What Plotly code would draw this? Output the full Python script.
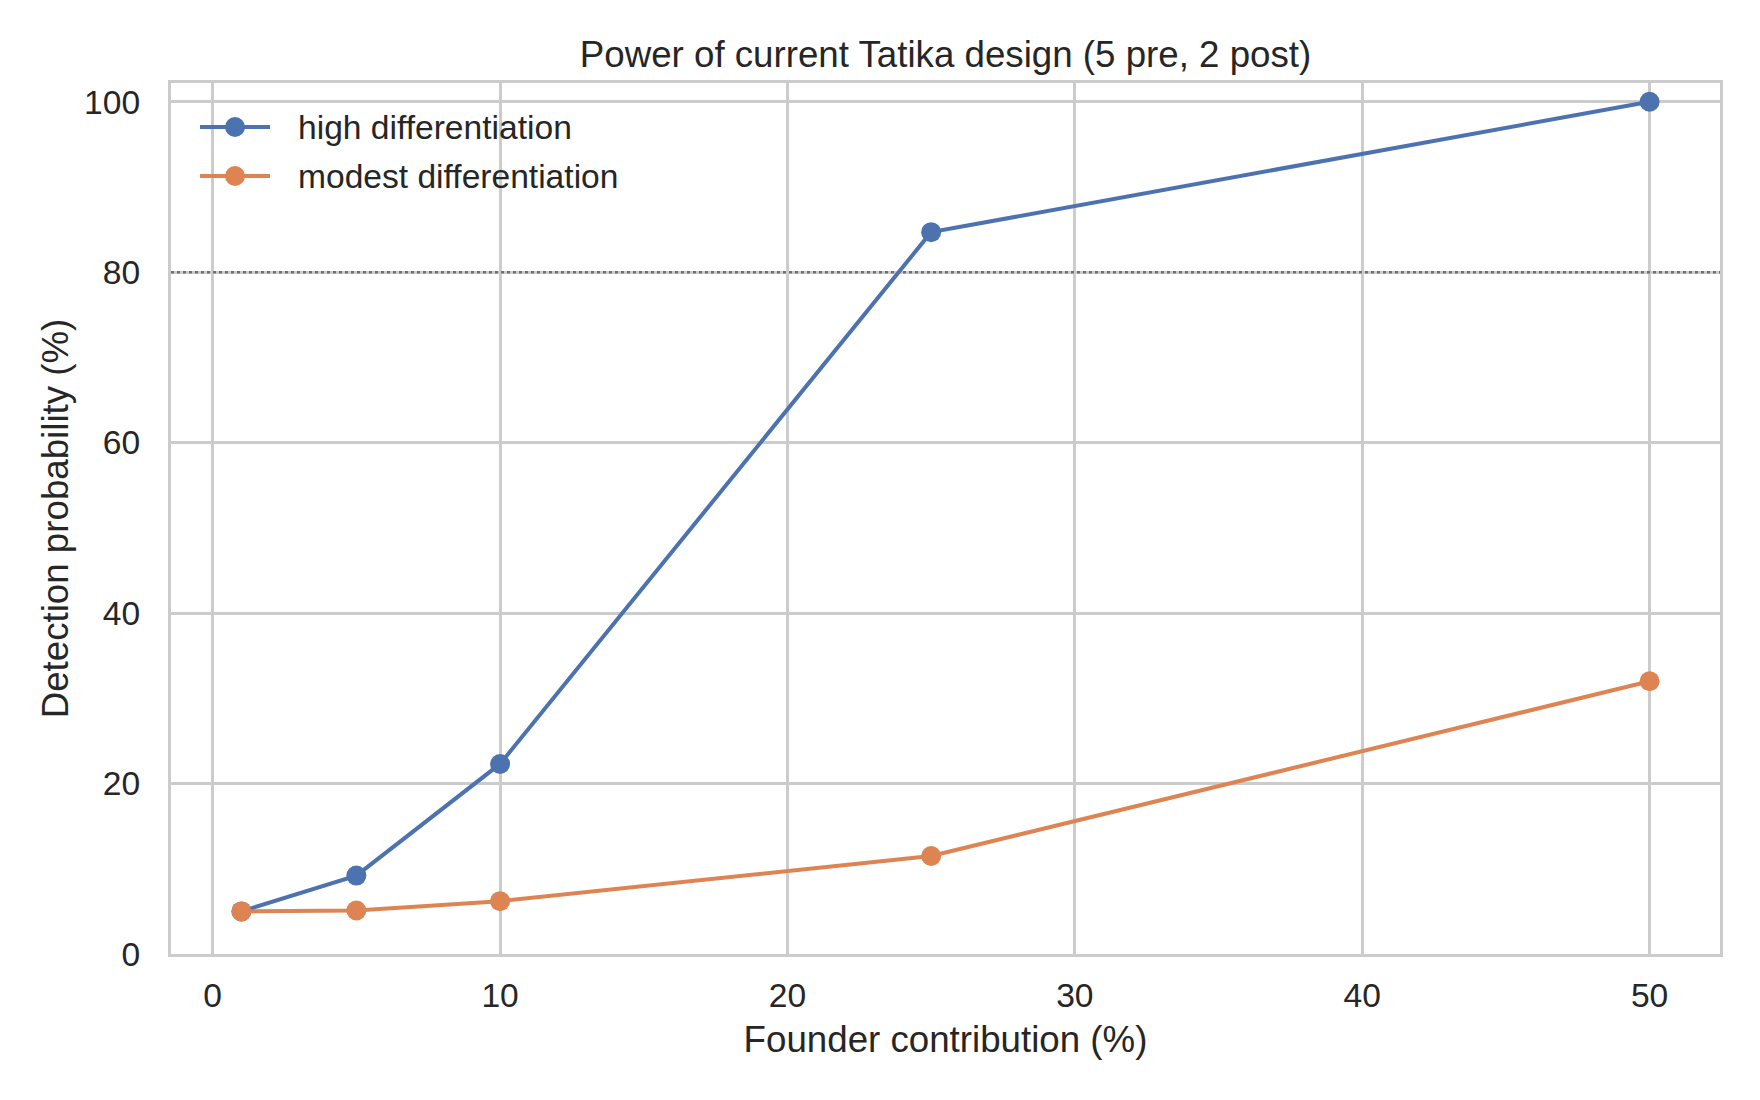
import plotly.graph_objects as go

founder_pct = [1, 5, 10, 25, 50]
high_diff = [5.0, 9.2, 22.3, 84.7, 100.0]
modest_diff = [5.0, 5.1, 6.2, 11.5, 32.0]
threshold = 80
series_names = ["high differentiation", "modest differentiation"]
x_ticks = [0, 10, 20, 30, 40, 50]
y_ticks = [0, 20, 40, 60, 80, 100]

BLUE = "#4C72B0"
ORANGE = "#DD8452"
TEXT = "#262626"
GRID = "#cccccc"
FONT = "Liberation Sans, Arial, sans-serif"

# plot area in pixels (for the hand-drawn legend only)
L, R, T, B = 171, 1720, 83, 954
def px(x):
    return (x - L) / (R - L)
def py(y):
    return (B - y) / (B - T)

fig = go.Figure()
colors = [BLUE, ORANGE]
for name, vals, col in zip(series_names, [high_diff, modest_diff], colors):
    fig.add_trace(go.Scatter(
        x=founder_pct, y=vals, name=name, mode="lines+markers",
        line=dict(color=col, width=4),
        marker=dict(color=col, size=20),
        showlegend=False,
    ))

fig.add_shape(type="line", xref="paper", x0=0, x1=1, yref="y", y0=threshold, y1=threshold,
              line=dict(color="#707070", width=2.5, dash="dot"), layer="above")

# legend (matplotlib style: long line sample with centered marker, no frame)
legend_rows_px = [127, 176]
for name, col, ry in zip(series_names, colors, legend_rows_px):
    cx, cy = px(235), py(ry)
    fig.add_shape(type="line", xref="paper", yref="paper", xsizemode="pixel", ysizemode="pixel",
                  xanchor=cx, yanchor=cy, x0=-35, x1=35, y0=0, y1=0,
                  line=dict(color=col, width=4), layer="above")
    fig.add_shape(type="circle", xref="paper", yref="paper", xsizemode="pixel", ysizemode="pixel",
                  xanchor=cx, yanchor=cy, x0=-10, x1=10, y0=-10, y1=10,
                  line=dict(color=col, width=0), fillcolor=col, layer="above")
    fig.add_annotation(text=name, xref="paper", yref="paper", x=px(296), y=cy,
                       xanchor="left", yanchor="middle", showarrow=False,
                       font=dict(size=33.6, color=TEXT, family=FONT))

fig.update_layout(
    width=1760, height=1100,
    margin=dict(l=L, r=1760 - R, t=T, b=1100 - B),
    paper_bgcolor="white", plot_bgcolor="white",
    font=dict(family=FONT, color=TEXT, size=33.6),
    title=dict(text="Power of current Tatika design (5 pre, 2 post)",
               x=(L + R) / 2 / 1760, xanchor="center",
               y=1 - 54 / 1100, yanchor="middle", yref="container",
               font=dict(size=36.7, color=TEXT)),
    showlegend=False,
)

fig.update_xaxes(
    range=[-1.45, 52.45], tickvals=x_ticks, ticktext=[str(v) for v in x_ticks],
    showgrid=True, gridcolor=GRID, gridwidth=2.5,
    showline=True, linecolor=GRID, linewidth=3.4, mirror=True,
    zeroline=False, ticks="outside", ticklen=9, tickcolor="rgba(0,0,0,0)",
    tickfont=dict(size=33.6, color=TEXT),
    title=dict(text="Founder contribution (%)", font=dict(size=36.7, color=TEXT), standoff=14),
)
fig.update_yaxes(
    range=[0, 102.2], tickvals=y_ticks, ticktext=[str(v) for v in y_ticks],
    showgrid=True, gridcolor=GRID, gridwidth=2.5,
    showline=True, linecolor=GRID, linewidth=3.4, mirror=True,
    zeroline=False, ticks="outside", ticklen=21, tickcolor="rgba(0,0,0,0)",
    tickfont=dict(size=33.6, color=TEXT),
    title=dict(text="Detection probability (%)", font=dict(size=36.7, color=TEXT), standoff=5),
)

fig.write_html("out.html")
